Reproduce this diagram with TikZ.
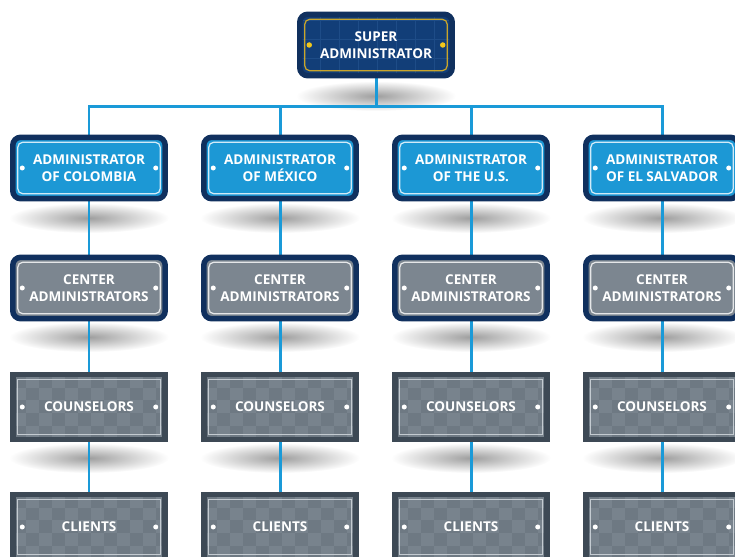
\documentclass[tikz,border=0pt]{standalone}
\usepackage{fontspec}
\usepackage{tikz}
\newfontfamily\platefont{Open Sans}

\definecolor{navyframe}{HTML}{10305E}
\definecolor{superfill}{HTML}{123E78}
\definecolor{supergrid}{HTML}{1E4C87}
\definecolor{goldline}{HTML}{C9A52A}
\definecolor{golddot}{HTML}{F2C71B}
\definecolor{adminfill}{HTML}{1C98D5}
\definecolor{linkblue}{HTML}{1A9AD8}
\definecolor{centerfill}{HTML}{7C8690}
\definecolor{checkframe}{HTML}{3D4955}
\definecolor{checkdark}{HTML}{6E7983}
\definecolor{checklight}{HTML}{78838D}
\definecolor{checkinner}{HTML}{C4CBD1}

\pgfdeclarelayer{background}
\pgfsetlayers{background,main}

\tikzset{
	plate/.style={line width=0.11cm, minimum width=3.05cm, minimum height=1.23cm,
		align=center, text=white, font=\platefont\bfseries\fontsize{7.7}{9.6}\selectfont},
	innerframe/.style={line width=0.025cm, rounded corners=0.1cm},
	superbox/.style={plate, draw=navyframe, fill=superfill, rounded corners=0.16cm,
		path picture={
			\draw[supergrid, line width=0.015cm, sharp corners] (path picture bounding box.south west) grid[step=0.38cm] (path picture bounding box.north east);
			\draw[goldline, innerframe] ([shift={(0.1cm,0.1cm)}]path picture bounding box.south west) rectangle ([shift={(-0.1cm,-0.1cm)}]path picture bounding box.north east);
			\fill[golddot] ([xshift=0.19cm]path picture bounding box.west) circle (0.055cm);
			\fill[golddot] ([xshift=-0.19cm]path picture bounding box.east) circle (0.055cm);
		}},
	adminbox/.style={plate, draw=navyframe, fill=#1, rounded corners=0.16cm,
		path picture={
			\draw[white!80!#1, innerframe] ([shift={(0.1cm,0.1cm)}]path picture bounding box.south west) rectangle ([shift={(-0.1cm,-0.1cm)}]path picture bounding box.north east);
			\fill[white] ([xshift=0.19cm]path picture bounding box.west) circle (0.05cm);
			\fill[white] ([xshift=-0.19cm]path picture bounding box.east) circle (0.05cm);
		}},
	checkbox/.style={plate, draw=checkframe, fill=checkdark, minimum height=1.3cm,
		path picture={
			\foreach \i in {0,...,12}{\foreach \j in {0,...,5}{
				\pgfmathtruncatemacro\cellsum{\i+\j}
				\ifodd\cellsum\fill[checklight, sharp corners] ([shift={(\i*0.26cm,\j*0.26cm)}]path picture bounding box.south west) rectangle ++(0.26cm,0.26cm);\fi}}
			\draw[checkinner, line width=0.025cm, sharp corners] ([shift={(0.1cm,0.1cm)}]path picture bounding box.south west) rectangle ([shift={(-0.1cm,-0.1cm)}]path picture bounding box.north east);
			\fill[white] ([xshift=0.19cm]path picture bounding box.west) circle (0.05cm);
			\fill[white] ([xshift=-0.19cm]path picture bounding box.east) circle (0.05cm);
		}},
	link/.style={linkblue, line width=0.06cm},
	dropshadow/.style={inner color=black!38, outer color=white}
}

\begin{document}
\begin{tikzpicture}[x=0.02cm,y=-0.02cm]
	\useasboundingbox (0,0) rectangle (735,557);

	% shadows
	\begin{pgfonlayer}{background}
		\shade[dropshadow] (376,96) ellipse (80 and 15);
		\shade[dropshadow] (89,218) ellipse (80 and 15);
		\shade[dropshadow] (280,218) ellipse (80 and 15);
		\shade[dropshadow] (471,218) ellipse (80 and 15);
		\shade[dropshadow] (662,218) ellipse (80 and 15);
		\shade[dropshadow] (89,337) ellipse (80 and 15);
		\shade[dropshadow] (280,337) ellipse (80 and 15);
		\shade[dropshadow] (471,337) ellipse (80 and 15);
		\shade[dropshadow] (662,337) ellipse (80 and 15);
		\shade[dropshadow] (89,458) ellipse (80 and 15);
		\shade[dropshadow] (280,458) ellipse (80 and 15);
		\shade[dropshadow] (471,458) ellipse (80 and 15);
		\shade[dropshadow] (662,458) ellipse (80 and 15);
	\end{pgfonlayer}

	% top
	\node[superbox] (super) at (376,45) {SUPER\\ADMINISTRATOR};
	\coordinate (bar) at (376,107);

	% countries
	\node[adminbox=adminfill] (admcol) at (89,168) {ADMINISTRATOR\\OF COLOMBIA};
	\node[adminbox=adminfill] (admmex) at (280,168) {ADMINISTRATOR\\OF MÉXICO};
	\node[adminbox=adminfill] (admus) at (471,168) {ADMINISTRATOR\\OF THE U.S.};
	\node[adminbox=adminfill] (admsv) at (662,168) {ADMINISTRATOR\\OF EL SALVADOR};

	% center administrators
	\node[adminbox=centerfill] (cencol) at (89,288) {CENTER\\ADMINISTRATORS};
	\node[adminbox=centerfill] (cenmex) at (280,288) {CENTER\\ADMINISTRATORS};
	\node[adminbox=centerfill] (cenus) at (471,288) {CENTER\\ADMINISTRATORS};
	\node[adminbox=centerfill] (censv) at (662,288) {CENTER\\ADMINISTRATORS};

	% counselors
	\node[checkbox] (coucol) at (89,407) {COUNSELORS};
	\node[checkbox] (coumex) at (280,407) {COUNSELORS};
	\node[checkbox] (couus) at (471,407) {COUNSELORS};
	\node[checkbox] (cousv) at (662,407) {COUNSELORS};

	% clients
	\node[checkbox] (clicol) at (89,527) {CLIENTS};
	\node[checkbox] (climex) at (280,527) {CLIENTS};
	\node[checkbox] (clius) at (471,527) {CLIENTS};
	\node[checkbox] (clisv) at (662,527) {CLIENTS};

	\begin{pgfonlayer}{background}
		\draw[link] (super) -- (bar);
		\draw[link] (admcol) -- (admcol |- bar) -- (admsv |- bar) -- (admsv);
		\draw[link] (admmex) -- (admmex |- bar);
		\draw[link] (admus) -- (admus |- bar);
		\draw[link] (admcol) -- (cencol);
		\draw[link] (admmex) -- (cenmex);
		\draw[link] (admus) -- (cenus);
		\draw[link] (admsv) -- (censv);
		\draw[link] (cencol) -- (coucol);
		\draw[link] (cenmex) -- (coumex);
		\draw[link] (cenus) -- (couus);
		\draw[link] (censv) -- (cousv);
		\draw[link] (coucol) -- (clicol);
		\draw[link] (coumex) -- (climex);
		\draw[link] (couus) -- (clius);
		\draw[link] (cousv) -- (clisv);
	\end{pgfonlayer}
\end{tikzpicture}
\end{document}
